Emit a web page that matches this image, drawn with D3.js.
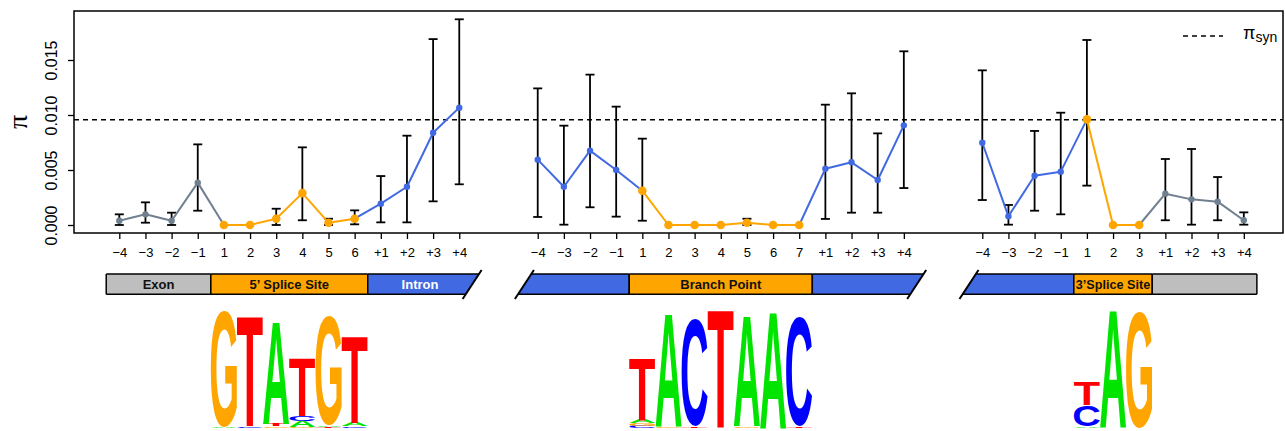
<!DOCTYPE html>
<html>
<head>
<meta charset="utf-8">
<script src="https://cdn.jsdelivr.net/npm/d3@7"></script>
<style>
  body { margin: 0; background: #fff; }
  svg { display: block; font-family: "Liberation Sans", Arial, sans-serif; }
</style>
</head>
<body>
<div class="visHolder"></div>
<script>
// values: three regions, pi with error bars
var site5Labels = ["\u22124", "\u22123", "\u22122", "\u22121", "1", "2", "3", "4", "5", "6", "+1", "+2", "+3", "+4"];
var site5Kind = ["exon", "exon", "exon", "exon", "site", "site", "site", "site", "site", "site", "intron", "intron", "intron", "intron"];
var site5Pi = [0.00039, 0.00097, 0.00039, 0.00385, 0, 0, 0.00057, 0.0029, 0.00021, 0.00057, 0.00194, 0.00348, 0.00839, 0.01067];
var site5Lo = [0, 0.00021, 0, 0.0013, 0, 0, 0, 0.00043, 0, 0.00006, 0.00024, 0.00024, 0.00215, 0.0037];
var site5Hi = [0.00097, 0.00206, 0.00112, 0.00733, 0, 0, 0.00148, 0.00706, 0.00057, 0.00133, 0.00445, 0.00812, 0.0169, 0.0187];

var branchLabels = ["\u22124", "\u22123", "\u22122", "\u22121", "1", "2", "3", "4", "5", "6", "7", "+1", "+2", "+3", "+4"];
var branchKind = ["intron", "intron", "intron", "intron", "site", "site", "site", "site", "site", "site", "site", "intron", "intron", "intron", "intron"];
var branchPi = [0.00594, 0.00348, 0.00676, 0.005, 0.00312, 0, 0, 0, 0.00021, 0, 0, 0.00512, 0.0057, 0.00409, 0.00906];
var branchLo = [0.00073, 0.00003, 0.00161, 0.00076, 0.00039, 0, 0, 0, 0, 0, 0, 0.00055, 0.00112, 0.00112, 0.00336];
var branchHi = [0.01242, 0.00903, 0.01367, 0.01076, 0.00785, 0, 0, 0, 0.00057, 0, 0, 0.01094, 0.01197, 0.00833, 0.01579];

var site3Labels = ["\u22124", "\u22123", "\u22122", "\u22121", "1", "2", "3", "+1", "+2", "+3", "+4"];
var site3Kind = ["intron", "intron", "intron", "intron", "site", "site", "site", "exon", "exon", "exon", "exon"];
var site3Pi = [0.00748, 0.00079, 0.00448, 0.00485, 0.0096, 0, 0, 0.00285, 0.00233, 0.00212, 0.00043];
var site3Lo = [0.00227, 0.00003, 0.0013, 0.00097, 0.00358, 0, 0, 0.00043, 0.00003, 0.00043, 0.00003];
var site3Hi = [0.01406, 0.00182, 0.00855, 0.01021, 0.01682, 0, 0, 0.006, 0.00691, 0.00436, 0.00115];

var groupStart = [0, 16, 33];   // x index of first position in each region
var piSyn = 0.00957;
var yTicks = [0, 0.005, 0.010, 0.015];

// gene structure bars (x index units)
var structBars = [
    { from: -0.5, to: 3.5, kind: "exon", label: "Exon" },
    { from: 3.5, to: 9.5, kind: "site", label: "5\u2019 Splice Site" },
    { from: 9.5, to: 13.5, kind: "intron", label: "Intron", cutRight: true },
    { from: 15.5, to: 19.5, kind: "intron", label: "", cutLeft: true },
    { from: 19.5, to: 26.5, kind: "site", label: "Branch Point" },
    { from: 26.5, to: 30.5, kind: "intron", label: "", cutRight: true },
    { from: 32.5, to: 36.5, kind: "intron", label: "", cutLeft: true },
    { from: 36.5, to: 39.5, kind: "site", label: "3\u2019Splice Site", squeeze: true },
    { from: 39.5, to: 43.5, kind: "exon", label: "" }
];

// sequence logos: stacks bottom -> top, heights in bits
var logo5Start = 4;
var logo5 = [
    [["A", 0.02], ["G", 1.97]],
    [["C", 0.03], ["T", 1.88]],
    [["G", 0.03], ["T", 0.04], ["A", 1.75]],
    [["G", 0.02], ["A", 0.1], ["C", 0.09], ["T", 0.98]],
    [["T", 0.02], ["A", 0.03], ["G", 1.86]],
    [["C", 0.03], ["A", 0.06], ["T", 1.47]]
];
var logoBranchStart = 20;
var logoBranch = [
    [["C", 0.04], ["G", 0.04], ["A", 0.06], ["T", 1.05]],
    [["G", 0.03], ["A", 1.91]],
    [["T", 0.03], ["C", 1.8]],
    [["T", 2.0]],
    [["G", 0.03], ["A", 1.88]],
    [["A", 1.99]],
    [["T", 0.03], ["C", 1.86]]
];
var logo3Start = 37;
var logo3 = [
    [["A", 0.03], ["C", 0.36], ["T", 0.39]],
    [["A", 2.0]],
    [["G", 1.97]]
];

var kindColor = { exon: "#708090", site: "#FFA500", intron: "#4169E1" };
var barColor = { exon: "#BEBEBE", site: "#FFA500", intron: "#4169E1" };
var letterColor = { A: "#00E400", C: "#0000FF", G: "#FFA500", T: "#FF0000" };

var W = 1285, H = 431;
var plot = { left: 74, right: 1283, top: 11, bottom: 233 };

var svg = d3.select(".visHolder")
    .append("svg")
    .attr("width", W)
    .attr("height", H);

var x = d3.scaleLinear().domain([0, 43]).range([119.3, 1243.8]);
var y = d3.scaleLinear().domain([0, 0.015]).range([225, 60]);

// build flat point list
var points = [];
function addGroup(g, labels, kinds, pi, lo, hi) {
    labels.forEach(function(l, i) {
        points.push({ g: g, idx: groupStart[g] + i, label: l, kind: kinds[i], pi: pi[i], lo: lo[i], hi: hi[i] });
    });
}
addGroup(0, site5Labels, site5Kind, site5Pi, site5Lo, site5Hi);
addGroup(1, branchLabels, branchKind, branchPi, branchLo, branchHi);
addGroup(2, site3Labels, site3Kind, site3Pi, site3Lo, site3Hi);

// box
svg.append("rect")
    .attr("x", plot.left).attr("y", plot.top)
    .attr("width", plot.right - plot.left).attr("height", plot.bottom - plot.top)
    .attr("fill", "none").attr("stroke", "#000").attr("stroke-width", 1.5);

// y axis
var yAxis = svg.append("g")
    .attr("transform", "translate(" + plot.left + ",0)")
    .call(d3.axisLeft(y).tickValues(yTicks).tickFormat(d3.format(".3f")).tickSize(6).tickSizeOuter(0));
yAxis.select(".domain").remove();
yAxis.selectAll(".tick line").attr("stroke-width", 1.3);
yAxis.selectAll(".tick text")
    .attr("x", null).attr("dy", null)
    .attr("transform", "translate(-17,0) rotate(-90)")
    .attr("text-anchor", "middle")
    .style("font-size", "16px")
    .style("font-family", "'Liberation Sans', Arial, sans-serif")
    .attr("fill", "#000");

svg.append("text")
    .attr("transform", "translate(27,122) rotate(-90)")
    .attr("text-anchor", "middle")
    .style("font-family", "'Liberation Serif', 'DejaVu Serif', serif")
    .style("font-size", "28px")
    .text("\u03c0");

// x axis
var xAxis = svg.append("g")
    .attr("transform", "translate(0," + plot.bottom + ")")
    .call(d3.axisBottom(x)
        .tickValues(points.map(function(d) { return d.idx; }))
        .tickFormat(function(v) { return points.find(function(p) { return p.idx === v; }).label; })
        .tickSize(6).tickSizeOuter(0));
xAxis.select(".domain").remove();
xAxis.selectAll(".tick line").attr("stroke-width", 1.3);
xAxis.selectAll(".tick text")
    .attr("y", 24).attr("dy", null)
    .style("font-size", "13px")
    .style("font-family", "'Liberation Sans', Arial, sans-serif")
    .attr("fill", "#000");

// pi_syn reference line
svg.append("line")
    .attr("x1", plot.left).attr("x2", plot.right)
    .attr("y1", y(piSyn)).attr("y2", y(piSyn))
    .attr("stroke", "#000").attr("stroke-width", 1.3)
    .attr("stroke-dasharray", "5,4");

// legend
svg.append("line")
    .attr("x1", 1183).attr("x2", 1223).attr("y1", 36).attr("y2", 36)
    .attr("stroke", "#000").attr("stroke-width", 1.3)
    .attr("stroke-dasharray", "5,4");
var legText = svg.append("text").attr("x", 1243).attr("y", 39).style("font-size", "18px");
legText.append("tspan").text("\u03c0");
legText.append("tspan").attr("dy", 3).style("font-size", "14px").text("syn");

// error bars
var bars = points.filter(function(d) { return d.hi > d.lo; });
var eb = svg.append("g").attr("stroke", "#000").attr("stroke-width", 1.8);
eb.selectAll(".stem").data(bars).enter().append("line")
    .attr("x1", function(d) { return x(d.idx); }).attr("x2", function(d) { return x(d.idx); })
    .attr("y1", function(d) { return y(d.lo); }).attr("y2", function(d) { return y(d.hi); });
["lo", "hi"].forEach(function(k) {
    eb.selectAll(".cap" + k).data(bars).enter().append("line")
        .attr("x1", function(d) { return x(d.idx) - 4.5; }).attr("x2", function(d) { return x(d.idx) + 4.5; })
        .attr("y1", function(d) { return y(d[k]); }).attr("y2", function(d) { return y(d[k]); });
});

// connecting lines, segment by segment
var segs = [];
for (var i = 1; i < points.length; i++) {
    var a = points[i - 1], b = points[i];
    if (a.g !== b.g) continue;
    var k = (a.kind === "site" && b.kind === "site") ? "site" : (a.kind !== "site" ? a.kind : b.kind);
    segs.push({ a: a, b: b, kind: k });
}
svg.append("g").selectAll("line").data(segs).enter().append("line")
    .attr("x1", function(d) { return x(d.a.idx); }).attr("y1", function(d) { return y(d.a.pi); })
    .attr("x2", function(d) { return x(d.b.idx); }).attr("y2", function(d) { return y(d.b.pi); })
    .attr("stroke", function(d) { return kindColor[d.kind]; })
    .attr("stroke-width", 2);

svg.append("g").selectAll("circle").data(points).enter().append("circle")
    .attr("cx", function(d) { return x(d.idx); })
    .attr("cy", function(d) { return y(d.pi); })
    .attr("r", function(d) { return d.kind === "site" ? 4.3 : 3.2; })
    .attr("fill", function(d) { return kindColor[d.kind]; });

// gene structure bars
var bTop = 274, bBot = 294.3, bMid = (bTop + bBot) / 2, slope = 0.655;
var sg = svg.append("g");
structBars.forEach(function(s) {
    var x0 = x(s.from), x1 = x(s.to);
    var tl = x0, bl = x0, tr = x1, br = x1;
    if (s.cutLeft) { tl = x0 + slope * (bMid - bTop); bl = x0 - slope * (bBot - bMid); }
    if (s.cutRight) { tr = x1 + slope * (bMid - bTop); br = x1 - slope * (bBot - bMid); }
    var pts = [[tl, bTop], [tr, bTop], [br, bBot], [bl, bBot]];
    sg.append("polygon")
        .attr("points", pts.map(function(p) { return p.join(","); }).join(" "))
        .attr("fill", barColor[s.kind]);
    // outline: top & bottom always, vertical sides only on uncut ends
    sg.append("line").attr("x1", tl).attr("x2", tr).attr("y1", bTop).attr("y2", bTop).attr("stroke", "#000").attr("stroke-width", 1.5);
    sg.append("line").attr("x1", bl).attr("x2", br).attr("y1", bBot).attr("y2", bBot).attr("stroke", "#000").attr("stroke-width", 1.5);
    if (!s.cutLeft) sg.append("line").attr("x1", x0).attr("x2", x0).attr("y1", bTop).attr("y2", bBot).attr("stroke", "#000").attr("stroke-width", 1.5);
    if (!s.cutRight) sg.append("line").attr("x1", x1).attr("x2", x1).attr("y1", bTop).attr("y2", bBot).attr("stroke", "#000").attr("stroke-width", 1.5);
    [[s.cutLeft, x0], [s.cutRight, x1]].forEach(function(c) {
        if (!c[0]) return;
        sg.append("line")
            .attr("x1", c[1] + slope * (bMid - 270)).attr("y1", 270)
            .attr("x2", c[1] - slope * (299 - bMid)).attr("y2", 299)
            .attr("stroke", "#000").attr("stroke-width", 2);
    });
    if (s.label) {
        var t = sg.append("text")
            .attr("x", (x0 + x1) / 2).attr("y", 289)
            .attr("text-anchor", "middle")
            .style("font-size", "13px").style("font-weight", "bold")
            .attr("fill", s.kind === "intron" ? "#fff" : "#111")
            .text(s.label);
        if (s.squeeze) t.attr("textLength", x1 - x0 - 4).attr("lengthAdjust", "spacingAndGlyphs");
    }
});

// sequence logos: letters stretched to fill their boxes
var ly = d3.scaleLinear().domain([0, 2]).range([428, 310]);
var ctx = document.createElement("canvas").getContext("2d");
var logoFont = "bold 100px 'Liberation Sans', Arial, sans-serif";
ctx.font = logoFont;
var ink = {};
["A", "C", "G", "T"].forEach(function(l) {
    var m = ctx.measureText(l);
    ink[l] = { L: m.actualBoundingBoxLeft, R: m.actualBoundingBoxRight, A: m.actualBoundingBoxAscent, D: m.actualBoundingBoxDescent };
});
var lg = svg.append("g");
function drawLogo(start, stacks) {
    stacks.forEach(function(col, i) {
        var cx = x(start + i), half = (x(1) - x(0)) / 2;
        var x0 = cx - half, x1 = cx + half;
        var acc = 0;
        col.forEach(function(c) {
            var yb = ly(acc), yt = ly(acc + c[1]);
            acc += c[1];
            var m = ink[c[0]];
            var sx = (x1 - x0) / (m.L + m.R), sy = (yb - yt) / (m.A + m.D);
            lg.append("text")
                .attr("transform", "translate(" + (x0 + m.L * sx) + "," + (yt + m.A * sy) + ") scale(" + sx + "," + sy + ")")
                .style("font", logoFont)
                .attr("fill", letterColor[c[0]])
                .text(c[0]);
        });
    });
}
drawLogo(logo5Start, logo5);
drawLogo(logoBranchStart, logoBranch);
drawLogo(logo3Start, logo3);
</script>
</body>
</html>
